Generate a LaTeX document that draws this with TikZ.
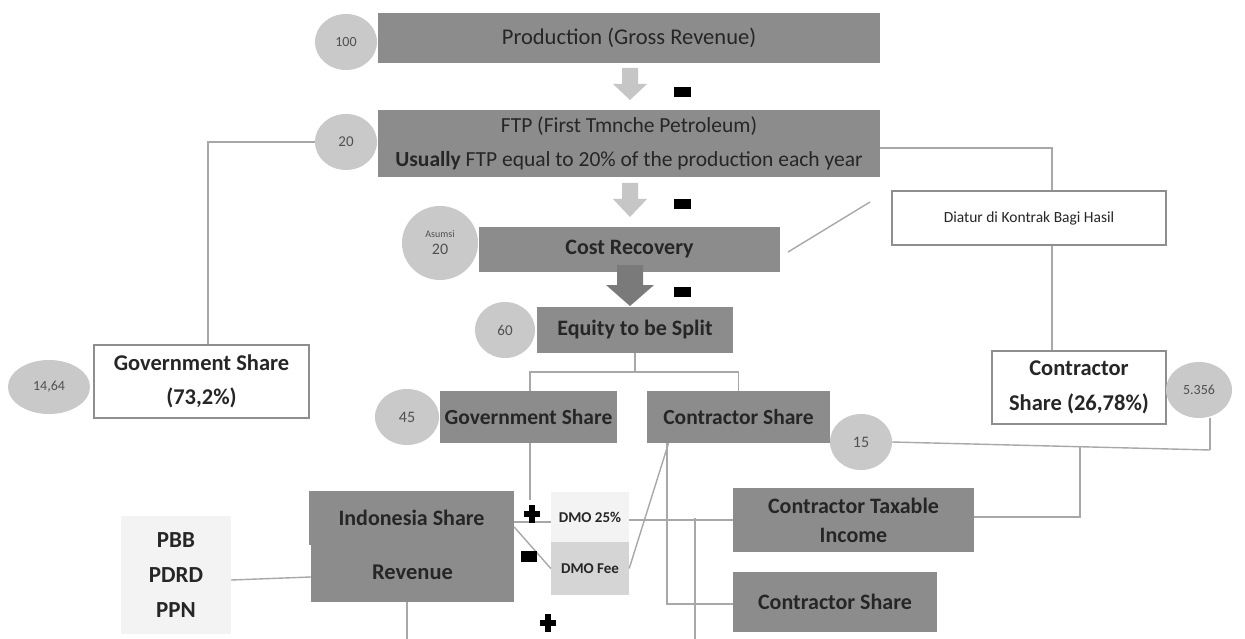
\documentclass[tikz,border=0pt]{standalone}
\usepackage{fontspec}
\setmainfont{Carlito}
\usetikzlibrary{shapes.geometric}
\definecolor{boxgray}{HTML}{8C8C8C}
\definecolor{txt}{HTML}{262626}
\definecolor{circgray}{HTML}{C9C9C9}
\definecolor{circtxt}{HTML}{505050}
\definecolor{linegray}{HTML}{A8A8A8}
\definecolor{bordergray}{HTML}{8E8E8E}
\definecolor{lightarrow}{HTML}{C6C6C6}
\definecolor{darkarrow}{HTML}{7A7A7A}
\definecolor{palebox}{HTML}{F3F3F3}
\definecolor{feebox}{HTML}{D5D5D5}
\newcommand\fz[2]{\fontsize{#1}{#2}\selectfont}
\tikzset{
  dbox/.style={fill=boxgray, draw=none, text=txt, align=center, inner sep=0pt},
  wbox/.style={fill=white, draw=bordergray, line width=2pt, text=txt, align=center, inner sep=0pt},
  lbox/.style={draw=none, text=txt, align=center, inner sep=0pt},
  circ/.style={ellipse, fill=circgray, draw=none, text=circtxt, inner sep=0pt, align=center},
  conn/.style={draw=linegray, line width=1.4pt},
  minussign/.style={fill=black, draw=none, minimum width=17pt, minimum height=10pt, inner sep=0pt},
  plussign/.pic={\fill[black] (-8,-2.6) rectangle (8,2.6); \fill[black] (-2.6,-9) rectangle (2.6,9);}
}
\begin{document}
\begin{tikzpicture}[x=1pt,y=-1pt]
\useasboundingbox (0,0) rectangle (1245,639);
\fill[white] (0,0) rectangle (1245,639);

% ---------- free connector ends ----------
\coordinate (ftpR) at (1052,148);
\coordinate (govL) at (208,142);
\coordinate (slA) at (788,252);
\coordinate (slB) at (870,202);
\coordinate (govDrop) at (530,500);
\coordinate (fifteenR) at (1210,450);
\coordinate (ctiTurn) at (1080,447);
\coordinate (vbot) at (695,639);
\coordinate (vtop) at (695,518);
\coordinate (revBot) at (407,639);

% ---------- boxes ----------
\node[dbox, minimum width=502pt, minimum height=50pt, font=\fz{22.5}{26}] (prod) at (629,38) {Production (Gross Revenue)};
\node[dbox, minimum width=502pt, minimum height=67pt, font=\fz{21.5}{34}] (ftp) at (629,143.5) {FTP (First Tmnche Petroleum)\\\textbf{Usually} FTP equal to 20\% of the production each year};
\node[dbox, minimum width=301pt, minimum height=45pt, font=\fz{22}{24}\bfseries] (cost) at (629.5,249.5) {Cost Recovery};
\node[dbox, minimum width=196pt, minimum height=46pt, font=\fz{22}{24}\bfseries] (equity) at (635,330) {Equity to be Split};
\node[dbox, minimum width=177pt, minimum height=52pt, font=\fz{21.5}{24}\bfseries] (govmid) at (528.5,417) {Government Share};
\node[dbox, minimum width=183pt, minimum height=52pt, font=\fz{21.5}{24}\bfseries] (conmid) at (738.5,417) {Contractor Share};
\node[wbox, minimum width=215pt, minimum height=73pt, font=\fz{22.5}{36}\bfseries] (gov73) at (201.5,381.5) {\raisebox{-2pt}{Government Share}\\(73,2\%)};
\node[wbox, minimum width=174pt, minimum height=73pt, font=\fz{22.5}{35}\bfseries] (con2678) at (1079,387.5) {Contractor\\Share (26,78\%)};
\node[wbox, minimum width=274pt, minimum height=54pt, font=\fz{15.5}{17}] (diatur) at (1029,218.5) {Diatur di Kontrak Bagi Hasil};
\node[dbox, minimum width=241pt, minimum height=64pt, font=\fz{22}{29}\bfseries] (cti) at (853.5,520) {Contractor Taxable\\Income};
\node[dbox, minimum width=204pt, minimum height=60pt, font=\fz{22}{24}\bfseries] (conbot) at (835,602) {Contractor Share};
\node[dbox, minimum width=205pt, minimum height=54pt, font=\fz{22}{24}\bfseries] (indo) at (411.5,518) {Indonesia Share};
\node[dbox, minimum width=203pt, minimum height=60pt, font=\fz{22.5}{24}\bfseries] (rev) at (412.5,572) {Revenue};
\node[lbox, fill=palebox, minimum width=110pt, minimum height=118pt, font=\fz{23}{35}\bfseries] (pbb) at (176,575) {PBB\\PDRD\\PPN};
\node[lbox, fill=palebox, minimum width=78pt, minimum height=50pt, font=\fz{15}{16}\bfseries] (dmo25) at (590,517) {DMO 25\%};
\node[lbox, fill=feebox, minimum width=78pt, minimum height=53pt, font=\fz{15}{16}\bfseries] (dmofee) at (590,568.5) {DMO Fee};

% ---------- connectors ----------
\draw[conn] ([xshift=-31pt]346,142) -- (govL) -- ([xshift=6.5pt]gov73.north);
\draw[conn] ([yshift=-4.5pt]ftp.east) -- (ftpR) -- (ftpR |- diatur.north);
\draw[conn] (ftpR |- diatur.south) -- (ftpR |- con2678.north);
\draw[conn] (slA) -- (slB);
\draw[conn] (equity.south) -- ++(0,19);
\draw[conn] ([xshift=1.5pt]govmid.north) -- ++(0,-19) -| (conmid.north);
\draw[conn] ([xshift=1.5pt]govmid.south) -- (govDrop);
\draw[conn] ([yshift=-4pt]indo.east) -- ([yshift=-5pt]dmo25.west);
\draw[conn] ([yshift=-9pt]indo.east) -- (dmofee.west);
\draw[conn] (dmofee.east) -- ([xshift=-70pt]conmid.south);
\draw[conn] ([xshift=-71.5pt]conmid.south) |- ([yshift=-2pt]conbot.west);
\draw[conn] ([yshift=-3pt]dmo25.east) -- ([yshift=0pt]cti.west);
\draw[conn] (vtop) -- (vbot);
\draw[conn] (ctiTurn) |- ([yshift=3pt]cti.east);
\draw[conn] ([yshift=-5pt]pbb.east) -- ([yshift=-5pt]rev.west);
\draw[conn] ([xshift=-5.5pt]rev.south) -- (revBot);

% ---------- circles ----------
\node[circ, minimum width=62pt, minimum height=56pt, font=\fz{14}{14}] (c100) at (346,42) {100};
\node[circ, minimum width=62pt, minimum height=56pt, font=\fz{15}{15}] (c20) at (346,142) {20};
\node[circ, minimum width=76pt, minimum height=74pt, font=\fz{16}{17}] (casumsi) at (440,243) {{\fz{10}{12}Asumsi}\\20};
\node[circ, minimum width=60pt, minimum height=56pt, font=\fz{15}{15}] (c60) at (505,330) {60};
\node[circ, minimum width=64pt, minimum height=56pt, font=\fz{16}{16}] (c45) at (407,417) {45};
\node[circ, minimum width=62pt, minimum height=56pt, font=\fz{16}{16}] (c15) at (861,442) {15};
\node[circ, minimum width=82pt, minimum height=54pt, font=\fz{14}{14}] (c1464) at (49,387) {14,64};
\node[circ, minimum width=66pt, minimum height=56pt, font=\fz{14}{14}] (c5356) at (1199,390) {5.356};

\draw[conn] (c15.east) -- (fifteenR);
\draw[conn] (fifteenR) -- (fifteenR |- c5356.south);

% ---------- block arrows ----------
\fill[lightarrow] (622,68) -- (638,68) -- (638,84) -- (647,84) -- (630,100) -- (613,84) -- (622,84) -- cycle;
\fill[lightarrow] (622,183) -- (638,183) -- (638,199) -- (647,199) -- (630,217) -- (613,199) -- (622,199) -- cycle;
\fill[darkarrow] (617,265) -- (643,265) -- (643,285) -- (654,285) -- (630,306) -- (606,285) -- (617,285) -- cycle;

% ---------- signs ----------
\node[minussign] (m1) at (682,92) {};
\node[minussign] (m2) at (682.5,204) {};
\node[minussign] (m3) at (682.5,292) {};
\node[minussign, minimum width=16pt, minimum height=11pt] (m4) at (529,556.5) {};
\pic at (532,514) {plussign};
\pic at (548,623) {plussign};
\end{tikzpicture}
\end{document}
